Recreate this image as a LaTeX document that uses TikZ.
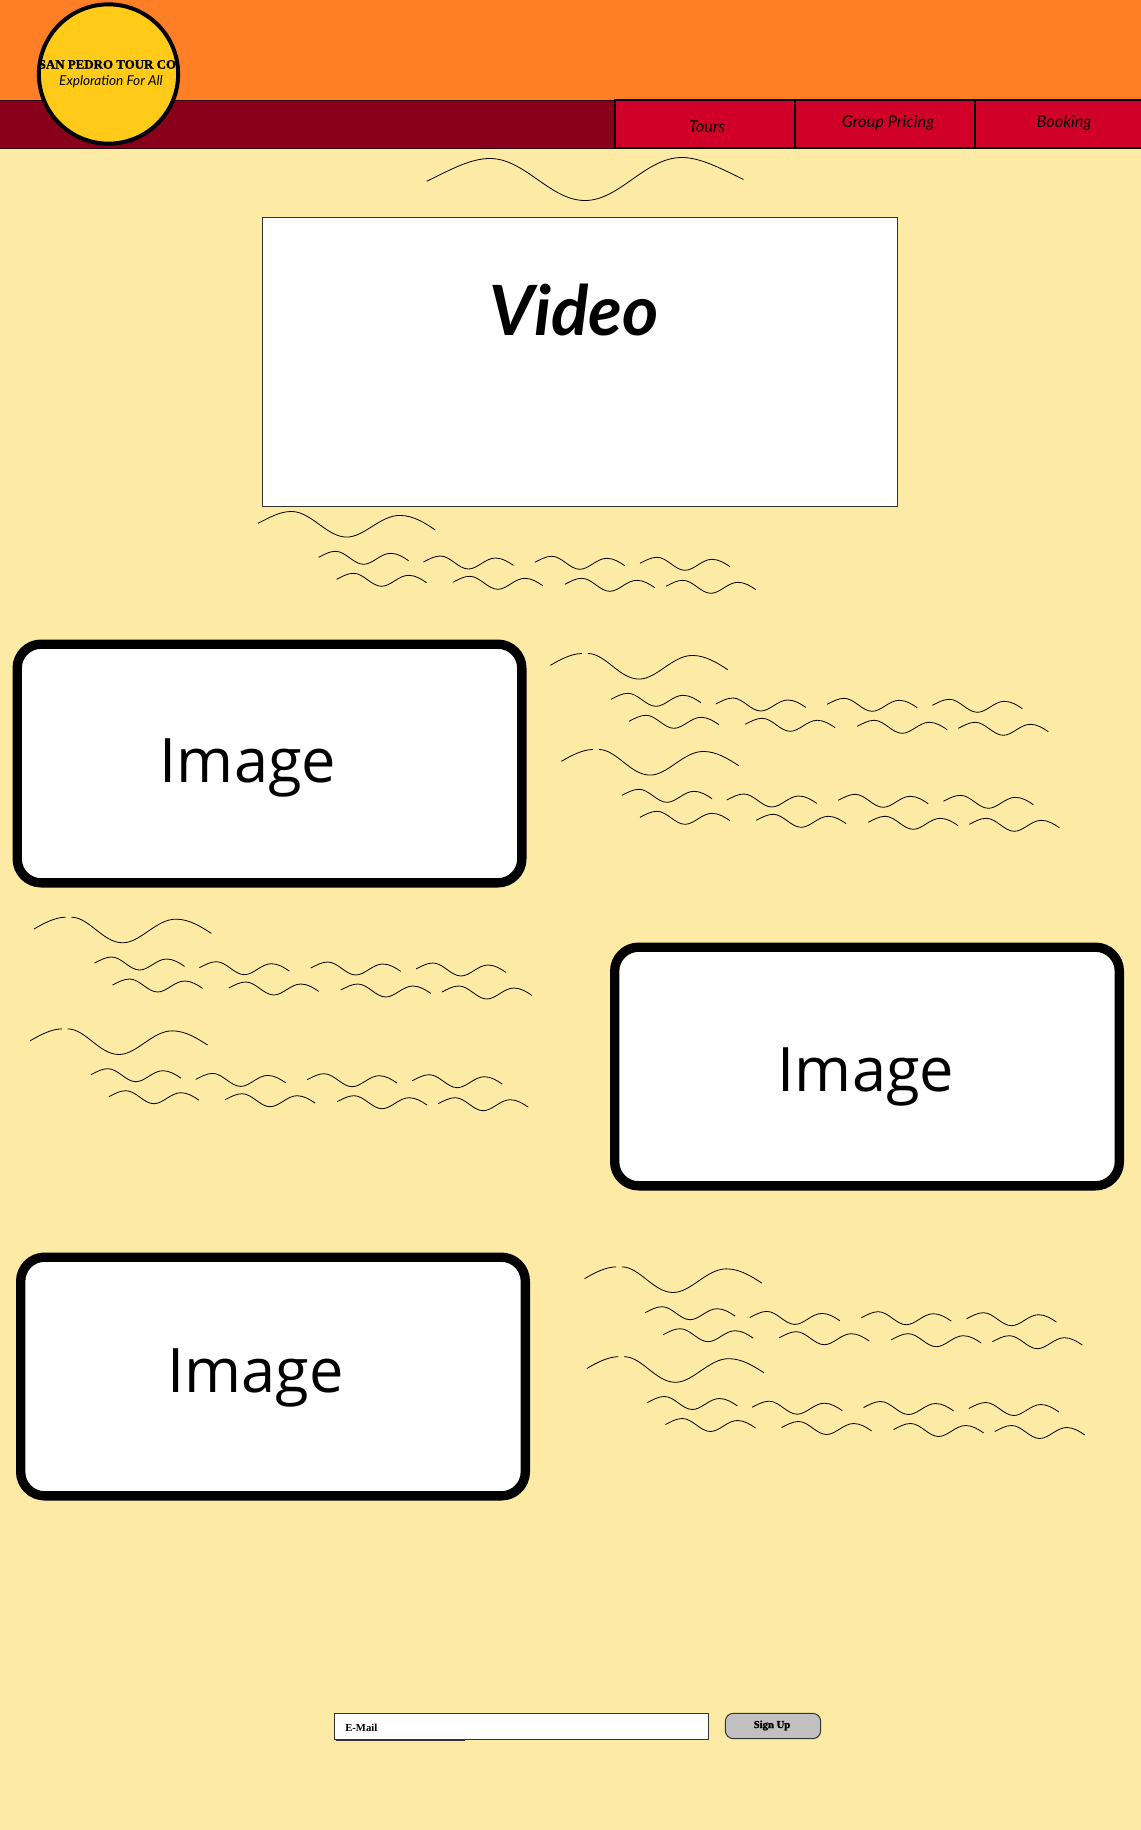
\documentclass[tikz,border=0pt]{standalone}
\usepackage{fontspec}
\setmainfont[BoldFeatures={FakeBold=1.6}]{Liberation Serif}
\newfontfamily\plainserif{Liberation Serif}
\newfontfamily\handfont{Lato}
\newfontfamily\imagefont{Open Sans}
\usepackage{xcolor}
\definecolor{PageBg}{HTML}{FDEAA4}
\definecolor{HeaderOrange}{HTML}{FF7F27}
\definecolor{BarMaroon}{HTML}{880019}
\definecolor{TabRed}{HTML}{D10028}
\definecolor{LogoYellow}{HTML}{FFCA18}
\definecolor{ButtonGrey}{HTML}{C0C0C0}
\definecolor{EdgeDark}{HTML}{333333}
\tikzset{
    squiggle/.pic={\draw[waveline] (0,0) .. controls (6,-3) and (11,-6) .. (17,-6) .. controls (27,-6) and (35,7) .. (45,7) .. controls (54,7) and (62,-4) .. (72,-4) .. controls (79,-4) and (85,0) .. (90,3.4);},
    gapsquiggle/.pic={\draw[waveline] (0,0) .. controls (5,-3) and (11,-6) .. (16,-6) (19,-6) .. controls (28,-6) and (35,7) .. (45,7) .. controls (54,7) and (62,-5) .. (72,-5) .. controls (79,-5) and (85,-1) .. (90,2.2);},
    textrows/.pic={
        \foreach \wx/\wy in {60.6/34, 165.4/38.7, 276.8/39, 382/40, 78.6/56, 194.8/59, 306.8/61, 407.9/63}
            \pic at (\wx,\wy) {squiggle};
    }
}
\begin{document}
\begin{tikzpicture}[
        x=0.75pt, y=-0.75pt,
        waveline/.style={draw=black, line width=0.6pt},
        tabbox/.style={rectangle, draw=black, fill=TabRed, line width=1.2pt, minimum width=135pt, minimum height=36pt, inner sep=0pt},
        tablabel/.style={font=\handfont\itshape\fontsize{12.3}{14}\selectfont, text=black, inner sep=0pt},
        imagebox/.style={rectangle, draw=black, fill=white, line width=7pt, rounded corners=18pt, minimum width=378.5pt, minimum height=179pt, inner sep=0pt},
        imagelabel/.style={font=\imagefont\fontsize{46}{50}\selectfont, inner sep=0pt}
    ]
    \useasboundingbox (0,0) rectangle (1141,1830);
    \fill[PageBg] (0,0) rectangle (1141,1830);
    \fill[HeaderOrange] (0,0) rectangle (1141,100);
    \draw[fill=BarMaroon, draw=black!70!BarMaroon, line width=0.6pt] (-2,100) rectangle (616,148);

    \node[tabbox] (tours) at (705,124) {};
    \node[tabbox] (group) at (885,124) {};
    \node[tabbox] (booking) at (1065,124) {};
    \node[tablabel] (tourstext) at (707,127) {Tours};
    \node[tablabel] (grouptext) at (888,123) {Group Pricing};
    \node[tablabel] (bookingtext) at (1064,123) {Booking};

    \node[circle, draw=black, fill=LogoYellow, line width=3pt, minimum size=104.5pt, inner sep=0pt] (logo) at (108.5,74) {};
    \node[font=\bfseries\fontsize{9.7}{12}\selectfont, inner sep=0pt] (logoname) at (109,64.5) {SAN PEDRO TOUR CO.};
    \node[font=\handfont\itshape\fontsize{10.2}{12}\selectfont, inner sep=0pt] (logotag) at (111,82) {Exploration For All};

    \draw[waveline] (426.7,181.3) .. controls (450,170) and (470,158.5) .. (490,158.5) .. controls (525,158.5) and (550,200.5) .. (585,200.5) .. controls (620,200.5) and (645,157.5) .. (682,157.5) .. controls (700,157.5) and (720,168) .. (743.5,179.5);

    \node[rectangle, draw=EdgeDark, fill=white, line width=0.75pt, minimum width=476pt, minimum height=217pt, inner sep=0pt] (video) at (579.7,361.7) {};
    \node[font=\handfont\bfseries\itshape\fontsize{52}{56}\selectfont, inner sep=0pt] (videotext) at (574,310) {Video};

    \pic[scale=1.97] at (258,523.3) {squiggle};
    \pic at (258,523.3) {textrows};
    \foreach \bx/\by in {550.4/665.3, 561.4/761.3, 34/929, 30.3/1040.7, 584.5/1278.7, 586.8/1368.5} {
        \pic[scale=1.97] at (\bx,\by) {gapsquiggle};
        \pic at (\bx,\by) {textrows};
    }

    \node[imagebox] (imageone) at (269.5,763.5) {};
    \node[imagelabel] (imageonetext) at (248,768) {Image};
    \node[imagebox] (imagetwo) at (867,1066.5) {};
    \node[imagelabel] (imagetwotext) at (866,1077) {Image};
    \node[imagebox] (imagethree) at (273,1376.5) {};
    \node[imagelabel] (imagethreetext) at (255.5,1378) {Image};

    \node[rectangle, draw=EdgeDark, fill=white, line width=0.75pt, minimum width=280.5pt, minimum height=19.5pt, inner sep=0pt] (email) at (521.5,1726.3) {};
    \draw[EdgeDark, line width=0.5pt] (336,1740) -- (465,1740);
    \node[anchor=west, font=\plainserif\bfseries\fontsize{8}{10}\selectfont, inner sep=0pt] (emailtext) at (345,1727.5) {E-Mail};
    \node[rectangle, draw=EdgeDark, fill=ButtonGrey, line width=0.75pt, rounded corners=6pt, minimum width=71.5pt, minimum height=19pt, inner sep=0pt] (signup) at (773,1726) {};
    \node[font=\bfseries\fontsize{8}{10}\selectfont, inner sep=0pt] (signuptext) at (772,1725.5) {Sign Up};
\end{tikzpicture}
\end{document}
